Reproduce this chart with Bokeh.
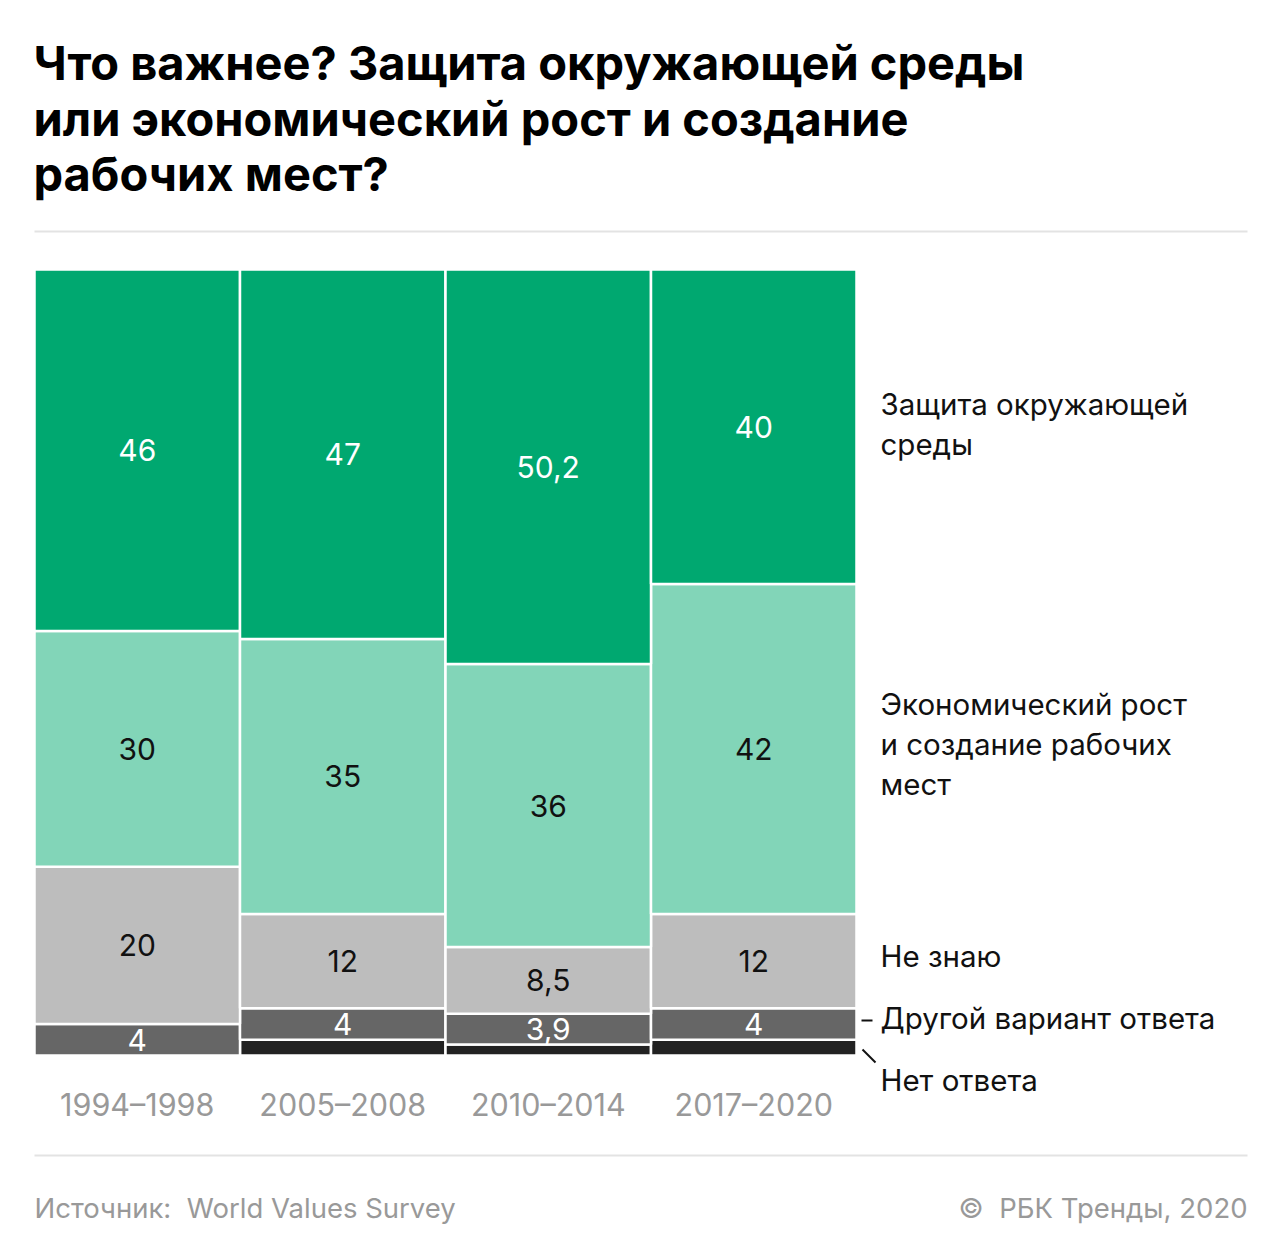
import numpy as np
from bokeh.plotting import figure
from bokeh.models import Range1d, ColumnDataSource
from bokeh.core.properties import value
from bokeh.embed import file_html
from bokeh.resources import INLINE

# ---------------- data ----------------
periods = ["1994–1998", "2005–2008", "2010–2014", "2017–2020"]
environment = [46, 47, 50.2, 40]
economy = [30, 35, 36, 42]
dont_know = [20, 12, 8.5, 12]
other_answer = [4, 4, 3.9, 4]
no_answer = [0, 2, 1.4, 2]

series_names = ["Нет ответа", "Другой вариант ответа", "Не знаю",
                "Экономический рост и создание рабочих мест", "Защита окружающей среды"]
# bottom -> top
series_values = [no_answer, other_answer, dont_know, economy, environment]
series_colors = ["#222222", "#666666", "#bdbdbd", "#82d5b8", "#00a870"]
label_colors = [None, "#ffffff", "#111111", "#111111", "#ffffff"]

# ---------------- canvas geometry ----------------
W, H = 1280, 1256
BAR_L, BAR_R = 34, 856      # px extent of all bars
BAR_T, BAR_B = 269, 1055    # px extent (100% .. 0%)
n = len(periods)
ppx = (BAR_R - BAR_L) / n   # px per category unit
ppy = (BAR_B - BAR_T) / 100.0

def dx(px):
    return (px - BAR_L) / ppx

def dy(py):
    return (BAR_B - py) / ppy

p = figure(width=W, height=H, output_backend="svg", toolbar_location=None,
           x_range=Range1d(dx(0), dx(W)), y_range=Range1d(dy(H), dy(0)),
           x_axis_location=None, y_axis_location=None,
           min_border=0, min_border_left=0, min_border_right=0,
           min_border_top=0, min_border_bottom=0)
p.outline_line_color = None
p.grid.visible = False
p.background_fill_color = "white"
p.border_fill_color = "white"

FONT = value("Inter")

# ---------------- bars ----------------
idx = np.arange(n)
bottoms = np.zeros(n)
for vals, col, lcol in zip(series_values, series_colors, label_colors):
    vals = np.array(vals, dtype=float)
    tops = bottoms + vals
    mask = vals > 0
    src = ColumnDataSource(dict(left=idx[mask], right=idx[mask] + 1,
                                bottom=bottoms[mask], top=tops[mask]))
    p.quad(left="left", right="right", bottom="bottom", top="top", source=src,
           fill_color=col, line_color="white", line_width=2.5)
    if lcol is not None:
        txt = [("%g" % v).replace(".", ",") for v in vals[mask]]
        lsrc = ColumnDataSource(dict(x=idx[mask] + 0.5,
                                     y=(bottoms[mask] + tops[mask]) / 2,
                                     t=txt))
        p.text(x="x", y="y", text="t", source=lsrc, text_align="center",
               text_baseline="middle", text_color=lcol, text_font=FONT,
               text_font_size="30px")
    bottoms = tops

# period labels
p.text(x=idx + 0.5, y=[dy(1104)] * n, text=periods, text_align="center",
       text_baseline="middle", text_color="#999999", text_font=FONT,
       text_font_size="30.5px")

# ---------------- right-hand series labels ----------------
right_lines = [
    ("Защита окружающей", 403), ("среды", 443),
    ("Экономический рост", 703), ("и создание рабочих", 743), ("мест", 783),
    ("Не знаю", 955), ("Другой вариант ответа", 1017), ("Нет ответа", 1079),
]
p.text(x=[dx(880)] * len(right_lines), y=[dy(y) for _, y in right_lines],
       text=[t for t, _ in right_lines], text_align="left",
       text_baseline="middle", text_color="#111111", text_font=FONT,
       text_font_size="29.5px")

# leader marks
p.segment(x0=[dx(861), dx(862)], y0=[dy(1020), dy(1049)],
          x1=[dx(872), dx(875)], y1=[dy(1020), dy(1062)],
          line_color="#111111", line_width=2)

# ---------------- title ----------------
title_lines = [("Что важнее? Защита окружающей среды", 62),
               ("или экономический рост и создание", 118),
               ("рабочих мест?", 173)]
p.text(x=[dx(33)] * 3, y=[dy(b) for _, b in title_lines],
       text=[t for t, _ in title_lines], text_align="left",
       text_baseline="middle", text_color="#000000",
       text_font=value("Inter"), text_font_style="bold", text_font_size="47px")

# separators
p.segment(x0=[dx(34), dx(34)], y0=[dy(231), dy(1155)],
          x1=[dx(1247), dx(1247)], y1=[dy(231), dy(1155)],
          line_color="#e3e3e3", line_width=2)

# ---------------- footer ----------------
p.text(x=[dx(34)], y=[dy(1207)], text=["Источник:\u00a0\u00a0World Values Survey"],
       text_align="left", text_baseline="middle", text_color="#999999",
       text_font=FONT, text_font_size="27.5px")
p.text(x=[dx(1247)], y=[dy(1207)], text=["©\u00a0\u00a0РБК Тренды, 2020"],
       text_align="right", text_baseline="middle", text_color="#999999",
       text_font=FONT, text_font_size="27.5px")

open("out.html", "w").write(file_html(p, INLINE))
